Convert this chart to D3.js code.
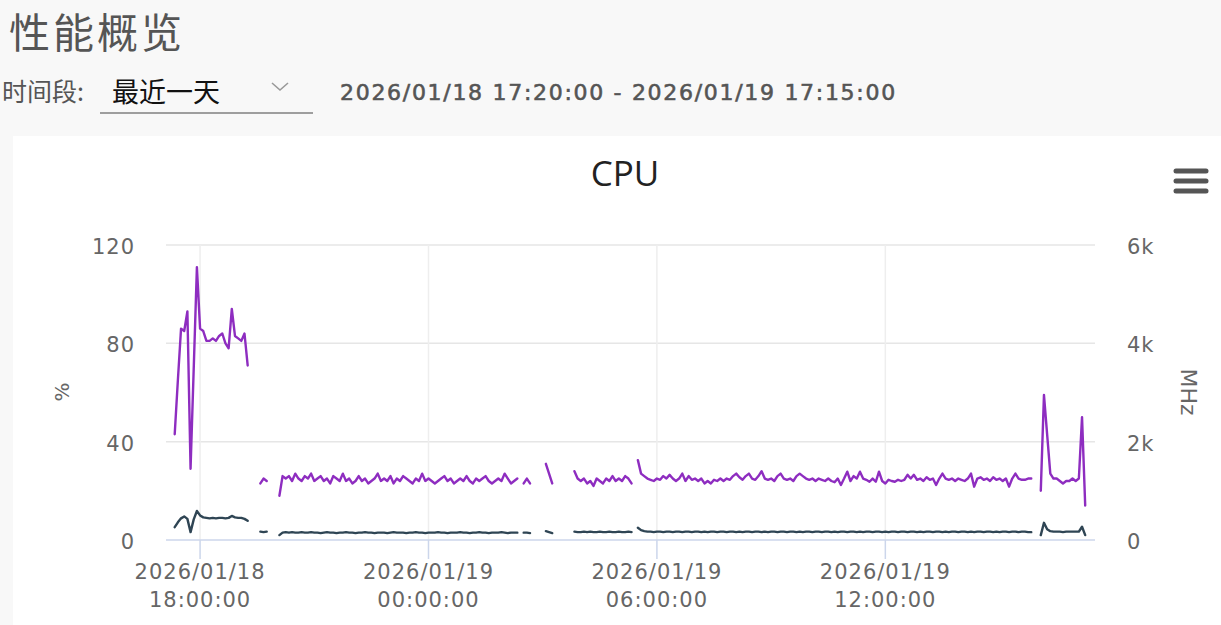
<!DOCTYPE html>
<html>
<head>
<meta charset="utf-8">
<script src="https://cdn.jsdelivr.net/npm/d3@7"></script>
<style>
  body { margin: 0; background: #f8f8f8; overflow: hidden; position: relative; }
  svg { display: block; }
  #pageTitle {
    position: absolute; left: 9px; top: 10px;
    font: 41px/41px "Noto Sans CJK SC", sans-serif;
    letter-spacing: 3px; color: #555; white-space: nowrap;
  }
</style>
</head>
<body>
<svg id="page" width="1221" height="625"></svg>
<div id="pageTitle">性能概览</div>
<script>
// 5 minute samples, 17:20 on the 18th to 17:15 on the 19th
var startTime = new Date(2026, 0, 18, 17, 20);
var stepMinutes = 5;

// CPU usage, % (left axis)
var usagePct = [
  43, 65, 86, 85, 93, 29, 70, 111, 86, 85, 81, 81,
  82, 81, 83, 84, 80, 78, 94, 83, 82, 81, 84, 71,
  null, null, null, 23, 25, 24, null, null, null, 18, 26, 25,
  26, 24, 27, 25, 24, 26, 25, 27, 24, 25, 26, 24,
  25, 23, 26, 25, 24, 27, 24, 25, 23, 24, 26, 24,
  25, 23, 24, 25, 27, 24, 25, 24, 26, 23, 25, 24,
  26, 25, 24, 23, 25, 24, 27, 24, 25, 24, 23, 24,
  25, 26, 24, 25, 23, 24, 25, 24, 26, 24, 23, 25,
  24, 25, 26, 24, 23, 24, 25, 24, 27, 25, 23, 24,
  25, null, 23, 25, 23, null, null, null, null, 31, 27, 23,
  null, null, null, null, null, null, 28, 25, 24, 25, 23, 24,
  22, 25, 24, 23, 25, 24, 26, 24, 25, 24, 26, 25,
  23, null, 32.5, 27, 26, 25, 24.5, 24, 25, 24.5, 26, 25,
  26.5, 25, 24, 25, 27, 24, 26, 24.5, 25, 24, 25, 23,
  24, 23, 24.5, 24, 25, 24, 25, 24.5, 26, 27, 25.5, 24.5,
  26, 27, 25, 24.5, 26, 28, 25, 24.5, 25, 24, 26, 27,
  25, 24.5, 25, 24, 26, 27, 26, 25, 24.5, 25, 24, 25,
  24.5, 24, 25, 24, 23.5, 25, 22.4, 25, 27.8, 24, 26, 25,
  27.8, 25, 24.5, 23.7, 25, 23.7, 27.8, 24, 23, 24.5, 24, 23.7,
  24.5, 24, 24.5, 26.5, 25, 26.5, 24.5, 25, 24, 25.5, 24.5, 25,
  22.4, 25, 27, 25, 24.5, 25, 24, 25, 24.5, 24, 25, 27,
  21.7, 25, 25.5, 24.5, 25, 24, 25.5, 24.5, 25, 24, 25, 21.7,
  25, 27, 25, 24.5, 24.5, 25, 25, null, null, 20, 59, 43,
  27, 25, 25, 24, 23, 24, 24, 25, 24, 25, 50, 14
];

// CPU usage, MHz (right axis)
var usageMhz = [
  260, 360, 440, 480, 430, 160, 420, 590, 500, 460, 450, 440,
  450, 440, 450, 450, 440, 450, 490, 460, 450, 450, 430, 390,
  null, null, null, 170, 160, 170, null, null, null, 100, 150, 160,
  150, 160, 150, 150, 160, 150, 150, 160, 150, 150, 140, 150,
  160, 150, 150, 140, 150, 150, 160, 150, 150, 140, 150, 150,
  160, 150, 150, 140, 150, 150, 150, 140, 150, 160, 150, 150,
  150, 140, 150, 150, 160, 150, 150, 140, 150, 150, 150, 160,
  150, 150, 140, 150, 150, 150, 160, 150, 150, 140, 150, 150,
  160, 150, 150, 140, 150, 150, 150, 160, 150, 140, 150, 150,
  150, null, 150, 150, 140, null, null, null, null, 180, 160, 140,
  null, null, null, null, null, null, 170, 160, 160, 170, 160, 170,
  160, 160, 170, 160, 160, 170, 160, 160, 170, 160, 160, 170,
  160, null, 250, 200, 180, 170, 170, 160, 170, 170, 160, 170,
  170, 160, 170, 170, 160, 170, 170, 160, 170, 170, 160, 170,
  160, 170, 170, 160, 170, 170, 160, 170, 170, 160, 170, 160,
  170, 170, 160, 170, 170, 160, 170, 160, 170, 170, 160, 170,
  170, 160, 170, 170, 160, 170, 160, 170, 170, 160, 170, 170,
  160, 170, 170, 160, 170, 160, 170, 170, 160, 170, 170, 160,
  170, 160, 170, 170, 160, 170, 170, 160, 170, 160, 170, 170,
  160, 170, 170, 160, 170, 170, 160, 170, 160, 170, 170, 160,
  170, 170, 160, 170, 160, 170, 170, 160, 170, 170, 160, 170,
  160, 170, 170, 160, 170, 170, 160, 170, 160, 170, 170, 160,
  170, 170, 160, 170, 170, 160, 160, null, null, 100, 350, 220,
  180, 170, 170, 170, 160, 170, 170, 170, 170, 170, 270, 100
];

var pctTicks = [0, 40, 80, 120];
var mhzTicks = [0, 2000, 4000, 6000];

var colors = { pct: '#8e2dc0', mhz: '#2f4554' };
var labelFont = '"DejaVu Sans", sans-serif';

var svg = d3.select('#page');

function timeAt (i)	{
	return new Date(startTime.getTime() + i * stepMinutes * 60000);
}

// ---- page header ----
svg.append('text')
	 .attr('x', 2).attr('y', 101)
	 .style('font', '25px "Noto Sans CJK SC"')
	 .style('fill', '#555')
	 .text('时间段:');

svg.append('text')
	 .attr('x', 112).attr('y', 102)
	 .style('font', '27px "Noto Sans CJK SC"')
	 .style('fill', '#111')
	 .text('最近一天');

svg.append('line')
	 .attr('x1', 100).attr('x2', 313)
	 .attr('y1', 113).attr('y2', 113)
	 .style('stroke', '#9e9e9e').style('stroke-width', 2);

svg.append('polyline')
	 .attr('points', '272,83 280,90 288,83')
	 .style('fill', 'none').style('stroke', '#999')
	 .style('stroke-width', 1.6);

// semi-bold look: book weight with a thin stroke
svg.append('text')
	 .attr('x', 340).attr('y', 100)
	 .style('font', '22px ' + labelFont)
	 .style('letter-spacing', '1.7px')
	 .style('fill', '#555')
	 .style('stroke', '#555')
	 .style('stroke-width', 0.6)
	 .text('2026/01/18 17:20:00 - 2026/01/19 17:15:00');

// ---- chart panel ----
svg.append('rect')
	 .attr('x', 13).attr('y', 136)
	 .attr('width', 1221 - 13).attr('height', 625 - 136)
	 .style('fill', '#fff');

var plot = { left: 166, right: 1095, top: 245, bottom: 540 };

var data = usagePct.map(function (v, i)	{
	return { t: timeAt(i), pct: v, mhz: usageMhz[i] };
});

var x = d3.scaleTime()
	.domain([data[0].t, data[data.length - 1].t])
	.range([174.7, 1085.2]);

var yPct = d3.scaleLinear().domain([0, 120])
	.range([plot.bottom, plot.top]);
var yMhz = d3.scaleLinear().domain([0, 6000])
	.range([plot.bottom, plot.top]);

var xTicks = x.ticks(d3.timeHour.every(6));

// grid
var grid = svg.append('g');
grid.selectAll('.hgrid')
	.data(pctTicks.slice(1))
	.enter().append('line')
	.attr('x1', plot.left).attr('x2', plot.right)
	.attr('y1', function (d)	{ return yPct(d); })
	.attr('y2', function (d)	{ return yPct(d); })
	.style('stroke', '#e6e6e6').style('stroke-width', 1.5);

grid.selectAll('.vgrid')
	.data(xTicks)
	.enter().append('line')
	.attr('x1', function (d)	{ return x(d); })
	.attr('x2', function (d)	{ return x(d); })
	.attr('y1', plot.top).attr('y2', plot.bottom)
	.style('stroke', '#eeeeee').style('stroke-width', 1.5);

// x axis line + ticks
svg.append('line')
	 .attr('x1', plot.left).attr('x2', plot.right)
	 .attr('y1', plot.bottom).attr('y2', plot.bottom)
	 .style('stroke', '#ccd6eb').style('stroke-width', 1.5);

svg.selectAll('.xtick')
	.data(xTicks)
	.enter().append('line')
	.attr('x1', function (d)	{ return x(d); })
	.attr('x2', function (d)	{ return x(d); })
	.attr('y1', plot.bottom).attr('y2', plot.bottom + 19)
	.style('stroke', '#ccd6eb').style('stroke-width', 1.5);

var fmtDate = d3.timeFormat('%Y/%m/%d'),
		fmtTime = d3.timeFormat('%H:%M:%S');

var xLabels = svg.selectAll('.xlabel')
	.data(xTicks)
	.enter().append('text')
	.attr('text-anchor', 'middle')
	.style('font', '21px ' + labelFont)
	.style('letter-spacing', '1px')
	.style('fill', '#666');

xLabels.append('tspan')
	.attr('x', function (d)	{ return x(d); })
	.attr('y', 579)
	.text(fmtDate);
xLabels.append('tspan')
	.attr('x', function (d)	{ return x(d); })
	.attr('y', 607)
	.text(fmtTime);

// y axis labels
svg.selectAll('.ylabel')
	.data(pctTicks)
	.enter().append('text')
	.attr('x', 135)
	.attr('y', function (d)	{ return yPct(d) + 9; })
	.attr('text-anchor', 'end')
	.style('font', '21px ' + labelFont)
	.style('letter-spacing', '1px')
	.style('fill', '#666')
	.text(function (d)	{ return d; });

svg.selectAll('.y2label')
	.data(mhzTicks)
	.enter().append('text')
	.attr('x', 1127)
	.attr('y', function (d)	{ return yMhz(d) + 9; })
	.style('font', '21px ' + labelFont)
	.style('letter-spacing', '1px')
	.style('fill', '#666')
	.text(function (d)	{ return d === 0 ? '0' : (d / 1000) + 'k'; });

svg.append('text')
	 .attr('transform', 'translate(69,392) rotate(-90)')
	 .attr('text-anchor', 'middle')
	 .style('font', '20px ' + labelFont)
	 .style('fill', '#666')
	 .text('%');

svg.append('text')
	 .attr('transform', 'translate(1181,392) rotate(90)')
	 .attr('text-anchor', 'middle')
	 .style('font', '22px ' + labelFont)
	 .style('fill', '#666')
	 .text('MHz');

// title + menu
svg.append('text')
	 .attr('x', 625).attr('y', 186)
	 .attr('text-anchor', 'middle')
	 .style('font', '35px "Open Sans", sans-serif')
	 .style('fill', '#222')
	 .text('CPU');

svg.selectAll('.menu')
	.data([171, 181, 191])
	.enter().append('line')
	.attr('x1', 1176).attr('x2', 1206)
	.attr('y1', function (d)	{ return d; })
	.attr('y2', function (d)	{ return d; })
	.style('stroke', '#555').style('stroke-width', 5)
	.style('stroke-linecap', 'round');

// series
function drawSeries (key, scale, color)	{
	var line = d3.line()
		.defined(function (d)	{ return d[key] !== null; })
		.x(function (d)	{ return x(d.t); })
		.y(function (d)	{ return scale(d[key]); });

	svg.append('path')
		 .datum(data)
		 .attr('d', line)
		 .style('fill', 'none')
		 .style('stroke', color)
		 .style('stroke-width', 2.4)
		 .style('stroke-linejoin', 'round')
		 .style('stroke-linecap', 'round');
}

drawSeries('pct', yPct, colors.pct);
drawSeries('mhz', yMhz, colors.mhz);
</script>
</body>
</html>
